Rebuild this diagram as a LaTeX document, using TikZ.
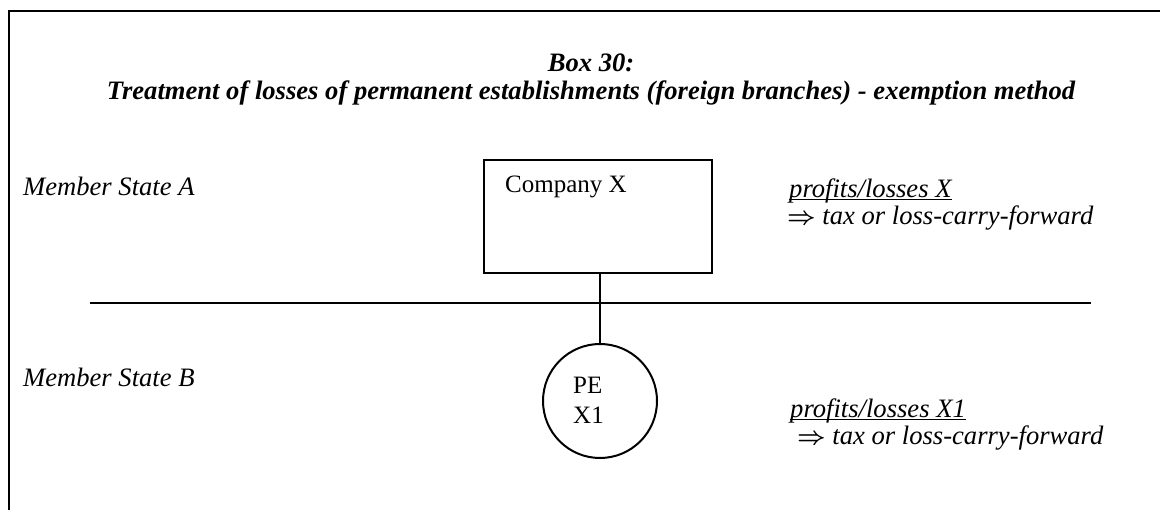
\documentclass[tikz,border=0pt]{standalone}
\usepackage{fontspec}
\setmainfont{Liberation Serif}
\newcommand{\dblarrow}{{\boldmath$\Rightarrow$}}
\newcommand{\ulin}[1]{\underline{\smash{#1}}}
\begin{document}
\begin{tikzpicture}[x=1pt,y=-1pt,
  ln/.style={line width=2pt},
  txt/.style={inner sep=0pt,anchor=base west,font=\fontsize{26.6}{25}\selectfont\itshape},
  ttl/.style={inner sep=0pt,anchor=base,font=\fontsize{26.6}{30}\selectfont\bfseries\itshape},
  plain/.style={inner sep=0pt,anchor=base west,font=\fontsize{25}{29}\selectfont}]
\useasboundingbox (0,0) rectangle (1160,510);
% frame
\coordinate (fTL) at (8.7,11.3);
\coordinate (fTR) at (1162,11.3);
\coordinate (fBL) at (8.7,512);
\draw[ln] (fBL) -- (fTL) -- (fTR);
% title
\node[ttl] (t1) at (591,72) {Box 30:};
\node[ttl] (t2) at (591,100) {Treatment of losses of permanent establishments (foreign branches) - exemption method};
% states
\node[txt] (msa) at (23,196) {Member State A};
\node[txt] (msb) at (23,387) {Member State B};
% company box
\node[draw,ln,minimum width=228pt,minimum height=113pt,inner sep=0pt] (box) at (598,216.5) {};
\node[plain] (cx) at (505,193) {Company X};
% border line
\coordinate (h1) at (90,303.5);
\coordinate (h2) at (1091,303.5);
\draw[ln] (h1) -- (h2);
% PE circle
\node[draw,ln,circle,minimum size=114pt,inner sep=0pt] (pe) at (600,401) {};
\node[plain] (pet) at (573,394) {PE};
\node[plain] (pex) at (573,424) {X1};
\draw[ln] (pe.north) -- (pe.north |- box.south);
% right texts
\node[txt] (p1) at (789,198) {\begin{tabular}[t]{@{}l@{}}\ulin{profits/losses X}\\
  \hspace*{-2pt}\dblarrow{} tax or loss-carry-forward\end{tabular}};
\node[txt] (p2) at (790,418) {\begin{tabular}[t]{@{}l@{}}\ulin{profits/losses X1}\\
  \hspace*{7pt}\dblarrow{} tax or loss-carry-forward\end{tabular}};
\end{tikzpicture}
\end{document}
